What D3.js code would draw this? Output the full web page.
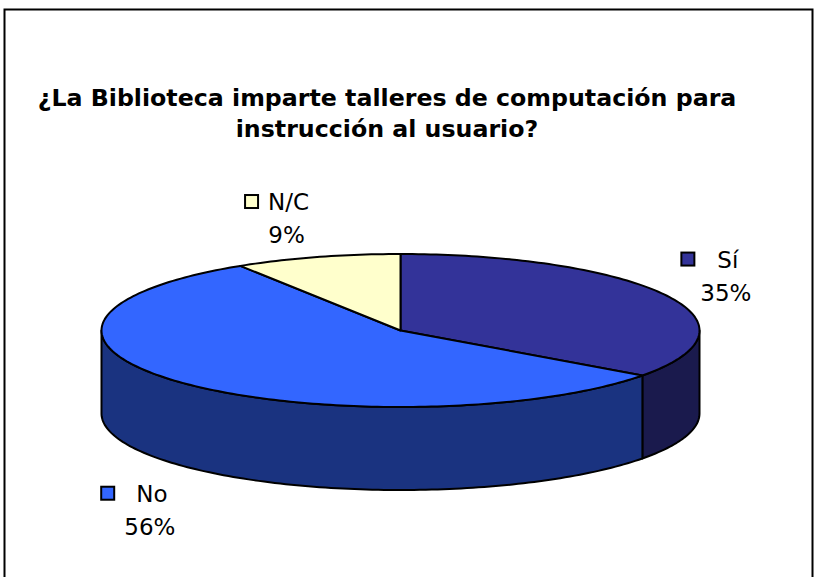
<!DOCTYPE html>
<html lang="es">
<head>
<meta charset="UTF-8">
<script src="https://cdn.jsdelivr.net/npm/d3@7"></script>
<title>Talleres de computación</title>
<style>
  body { margin: 0; background: #fff; }
  text { font-family: "DejaVu Sans", Verdana, sans-serif; fill: #000; }
</style>
</head>
<body>
<script>
// data
var categories = ["Sí", "No", "N/C"];
var values = [35, 56, 9];
var pctLabels = ["35%", "56%", "9%"];
var titleLines = ["¿La Biblioteca imparte talleres de computación para", "instrucción al usuario?"];

var width = 816, height = 577;
var topColors = ["#333399", "#3366FF", "#FFFFCC"];

// 3d pie geometry
var cx = 400.5, cy = 330.5, rx = 299, ry = 76.5, depth = 83;
// hand nudges for where Excel put its labels: [dx, dy, gap between key and name]
var labelNudge = {"Sí": [19, 10, 23], "No": [0, 61, 22], "N/C": [-18, -3, 10]};

var svg = d3.select("body").append("svg")
    .attr("width", width).attr("height", height);

svg.append("rect")
    .attr("x", 4.5).attr("y", 9.5)
    .attr("width", 808).attr("height", 600)
    .attr("fill", "#fff").attr("stroke", "#000").attr("stroke-width", 2);

svg.append("text")
    .attr("x", 387).attr("y", 106)
    .attr("text-anchor", "middle")
    .attr("font-size", "23.7px").attr("font-weight", "bold")
    .selectAll("tspan").data(titleLines).enter()
    .append("tspan")
    .attr("x", 387)
    .attr("dy", function(d, i){ return i === 0 ? 0 : 31; })
    .text(function(d){ return d; });

var pie = d3.pie().sort(null).value(function(d){ return d; });
var arcs = pie(values);

function pt(a, dy){
    return [cx + rx * Math.sin(a), cy - ry * Math.cos(a) + (dy || 0)];
}
function angles(a0, a1){
    var n = Math.max(2, Math.ceil((a1 - a0) / 0.02));
    return d3.range(n + 1).map(function(i){ return a0 + (a1 - a0) * i / n; });
}
var line = d3.line();

function darker(c){
    var h = d3.rgb(c);
    return d3.rgb(h.r / 2, h.g / 2, h.b / 2).formatHex();
}

// outer walls, only the front half (pi/2 .. 3pi/2) shows
var wallG = svg.append("g");
arcs.forEach(function(d, i){
    var a0 = Math.max(d.startAngle, Math.PI / 2),
        a1 = Math.min(d.endAngle, 3 * Math.PI / 2);
    if (a1 <= a0) return;
    var topPts = angles(a0, a1).map(function(a){ return pt(a); });
    var botPts = angles(a0, a1).reverse().map(function(a){ return pt(a, depth); });
    wallG.append("path")
        .attr("d", line(topPts.concat(botPts)) + "Z")
        .attr("fill", darker(topColors[i]))
        .attr("stroke", "#000").attr("stroke-width", 2)
        .attr("stroke-linejoin", "round");
});

// top faces
var topG = svg.append("g");
arcs.forEach(function(d, i){
    var pts = [[cx, cy]].concat(angles(d.startAngle, d.endAngle).map(function(a){ return pt(a); }));
    topG.append("path")
        .attr("d", line(pts) + "Z")
        .attr("fill", topColors[i])
        .attr("stroke", "#000").attr("stroke-width", 2)
        .attr("stroke-linejoin", "round");
});

// labels
var labG = svg.append("g").attr("font-size", "23px");
arcs.forEach(function(d, i){
    var mid = (d.startAngle + d.endAngle) / 2;
    var base = [cx + rx * 1.15 * Math.sin(mid),
                cy - ry * 1.15 * Math.cos(mid) + (Math.cos(mid) < 0 ? depth : 0)];
    var nudge = labelNudge[categories[i]];
    var lx = base[0] + nudge[0], ly = base[1] + nudge[1];

    labG.append("text")
        .attr("x", lx).attr("y", ly)
        .attr("text-anchor", "middle")
        .text(pctLabels[i]);

    var g = labG.append("g");
    var sq = 13, gap = nudge[2];
    var t = g.append("text")
        .attr("x", sq + gap).attr("y", 0)
        .text(categories[i]);
    g.append("rect")
        .attr("x", 0).attr("y", -15)
        .attr("width", sq).attr("height", sq)
        .attr("fill", topColors[i])
        .attr("stroke", "#000").attr("stroke-width", 2);
    var tx = lx + 2 - t.node().getComputedTextLength() / 2;
    g.attr("transform", "translate(" + (tx - sq - gap) + "," + (ly - 33) + ")");
});
</script>
</body>
</html>
